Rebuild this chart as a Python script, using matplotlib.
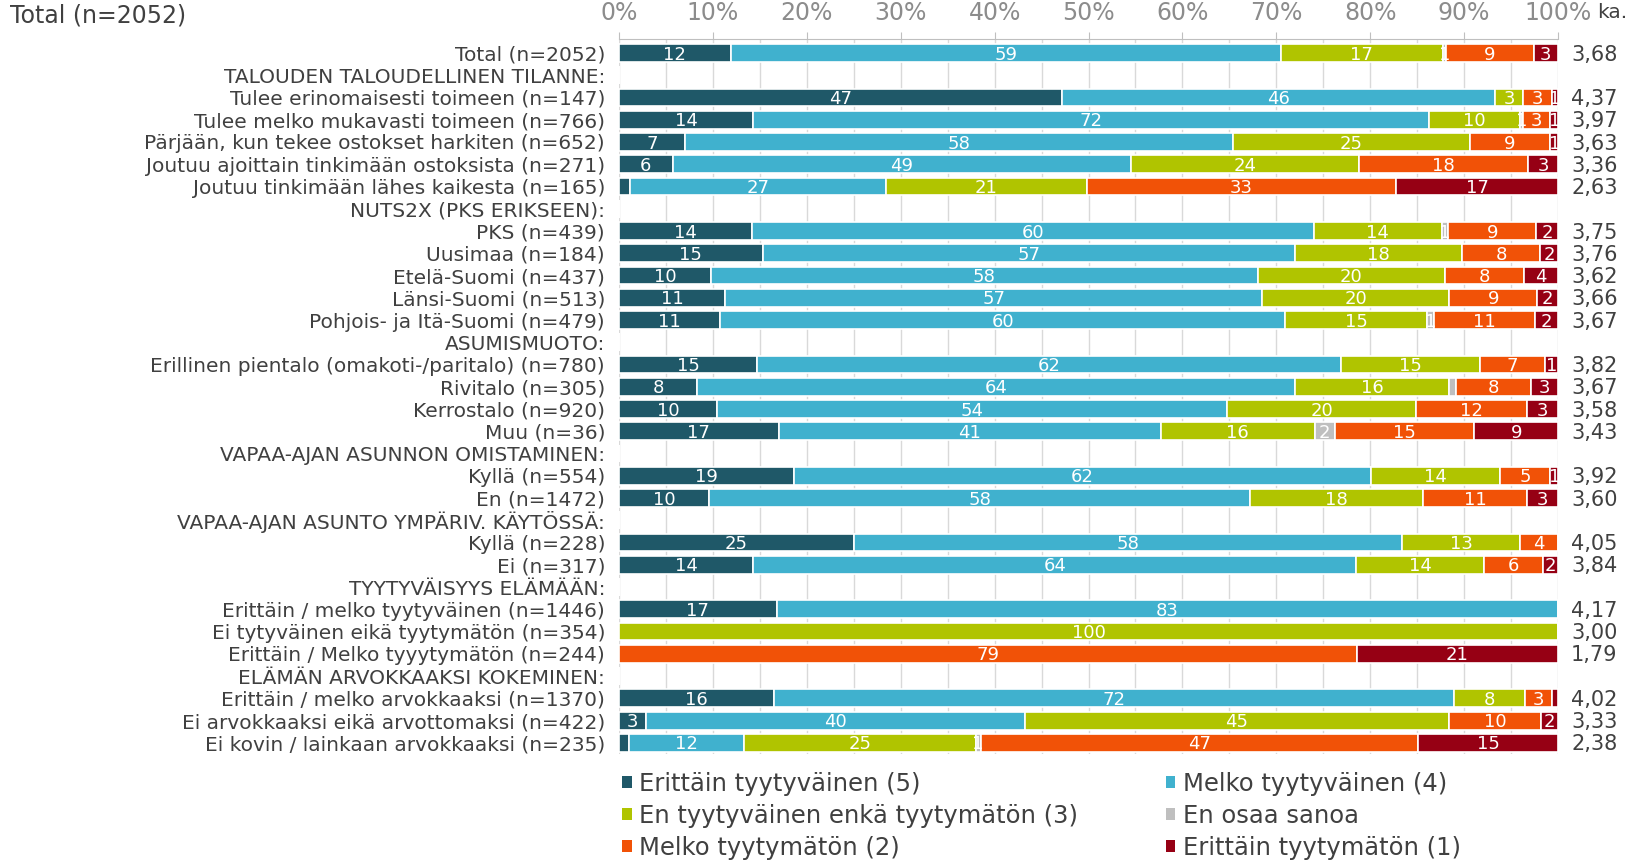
import matplotlib
matplotlib.use("Agg")
import matplotlib.pyplot as plt
from matplotlib.patches import Patch
from matplotlib.transforms import blended_transform_factory

plt.rcParams['font.family'] = ['DejaVu Sans']

# rivit (otsikkorivit ilman palkkeja)
rivit = [
    "Total (n=2052)",
    "TALOUDEN TALOUDELLINEN TILANNE:",
    "Tulee erinomaisesti toimeen (n=147)",
    "Tulee melko mukavasti toimeen (n=766)",
    "Pärjään, kun tekee ostokset harkiten (n=652)",
    "Joutuu ajoittain tinkimään ostoksista (n=271)",
    "Joutuu tinkimään lähes kaikesta (n=165)",
    "NUTS2X (PKS ERIKSEEN):",
    "PKS (n=439)",
    "Uusimaa (n=184)",
    "Etelä-Suomi (n=437)",
    "Länsi-Suomi (n=513)",
    "Pohjois- ja Itä-Suomi (n=479)",
    "ASUMISMUOTO:",
    "Erillinen pientalo (omakoti-/paritalo) (n=780)",
    "Rivitalo (n=305)",
    "Kerrostalo (n=920)",
    "Muu (n=36)",
    "VAPAA-AJAN ASUNNON OMISTAMINEN:",
    "Kyllä (n=554)",
    "En (n=1472)",
    "VAPAA-AJAN ASUNTO YMPÄRIV. KÄYTÖSSÄ:",
    "Kyllä (n=228)",
    "Ei (n=317)",
    "TYYTYVÄISYYS ELÄMÄÄN:",
    "Erittäin / melko tyytyväinen (n=1446)",
    "Ei tytyväinen eikä tyytymätön (n=354)",
    "Erittäin / Melko tyyytymätön (n=244)",
    "ELÄMÄN ARVOKKAAKSI KOKEMINEN:",
    "Erittäin / melko arvokkaaksi (n=1370)",
    "Ei arvokkaaksi eikä arvottomaksi (n=422)",
    "Ei kovin / lainkaan arvokkaaksi (n=235)",
]

# prosentit, arvioitu kuvasta
erittain_tyyt = [11.9, 0, 47.2, 14.3, 7.0, 5.7, 1.2, 0, 14.2, 15.3, 9.8, 11.3, 10.8, 0,
                 14.7, 8.3, 10.4, 17.0, 0, 18.6, 9.6, 0, 25.0, 14.3, 0, 16.8, 0, 0, 0, 16.5, 2.9, 1.1]
melko_tyyt = [58.6, 0, 46.1, 72.0, 58.4, 48.8, 27.2, 0, 59.8, 56.7, 58.2, 57.2, 60.1, 0,
              62.2, 63.7, 54.4, 40.7, 0, 61.5, 57.6, 0, 58.4, 64.2, 0, 83.2, 0, 0, 0, 72.4, 40.3, 12.2]
ei_kumpikaan = [17.2, 0, 3.0, 9.6, 25.2, 24.3, 21.4, 0, 13.6, 17.8, 20.0, 19.9, 15.2, 0,
                14.8, 16.4, 20.1, 16.4, 0, 13.7, 18.4, 0, 12.6, 13.6, 0, 0, 100, 0, 0, 7.6, 45.2, 24.7]
eos = [0.4, 0, 0, 0.4, 0, 0, 0, 0, 0.7, 0, 0, 0, 0.7, 0,
       0, 0.7, 0, 2.1, 0, 0, 0, 0, 0, 0, 0, 0, 0, 0, 0, 0, 0, 0.5]
melko_tyytymaton = [9.3, 0, 3.1, 2.9, 8.6, 18.0, 33.0, 0, 9.4, 8.3, 8.4, 9.4, 10.8, 0,
                    6.9, 8.0, 11.8, 14.9, 0, 5.4, 11.1, 0, 4.0, 6.3, 0, 0, 0, 78.6, 0, 2.9, 9.8, 46.6]
erittain_tyytymaton = [2.6, 0, 0.6, 0.8, 0.8, 3.2, 17.2, 0, 2.3, 1.9, 3.6, 2.2, 2.4, 0,
                       1.4, 2.9, 3.3, 8.9, 0, 0.8, 3.3, 0, 0, 1.6, 0, 0, 0, 21.4, 0, 0.6, 1.8, 14.9]

ka = [3.68, None, 4.37, 3.97, 3.63, 3.36, 2.63, None, 3.75, 3.76, 3.62, 3.66, 3.67, None,
      3.82, 3.67, 3.58, 3.43, None, 3.92, 3.60, None, 4.05, 3.84, None, 4.17, 3.00, 1.79,
      None, 4.02, 3.33, 2.38]

sarjat = ["Erittäin tyytyväinen (5)", "Melko tyytyväinen (4)",
          "En tyytyväinen enkä tyytymätön (3)", "En osaa sanoa",
          "Melko tyytymätön (2)", "Erittäin tyytymätön (1)"]
varit = ["#1f5868", "#40b1ce", "#b0c400", "#bfbfbf", "#f15207", "#960014"]

# pienet osat joissa arvoa ei näytetä
piilotetut = [(6, 0), (15, 3), (29, 5), (31, 0)]

arvot = [erittain_tyyt, melko_tyyt, ei_kumpikaan, eos, melko_tyytymaton, erittain_tyytymaton]

fig = plt.figure(figsize=(16.32, 8.6), dpi=100)
ax = fig.add_axes([619 / 1632, 1 - 754 / 860, 939 / 1632, (754 - 38.5) / 860])

y = list(range(len(rivit)))
left = [0.0] * len(rivit)
for s, (vals, col) in enumerate(zip(arvot, varit)):
    bars = ax.barh(y, vals, left=left, height=0.8, color=col, edgecolor="white",
                   linewidth=1.2, zorder=3)
    for i, (b, v) in enumerate(zip(bars, vals)):
        if v > 0 and (i, s) not in piilotetut:
            ax.text(left[i] + v / 2, i + 0.07, str(max(1, round(v))), ha="center",
                    va="center", color="white", fontsize=13, zorder=4)
    left = [l + v for l, v in zip(left, vals)]

ax.set_xlim(0, 100)
ax.set_ylim(31.5, -0.65)
ax.set_yticks(y)
ax.set_yticklabels(rivit, fontsize=14.5, color="#404040")
ax.tick_params(axis="y", length=0, pad=10)

ax.xaxis.tick_top()
ax.set_xticks(range(0, 101, 10))
ax.set_xticklabels([f"{p}%" for p in range(0, 101, 10)], fontsize=17, color="#8c8c8c")
ax.set_xticks(range(0, 101, 5), minor=True)
ax.tick_params(axis="x", which="major", length=5, color="#bfbfbf", pad=5)
ax.tick_params(axis="x", which="minor", length=0)
ax.grid(axis="x", which="both", color="#d9d9d9", linewidth=1, zorder=0)
ax.set_axisbelow(True)
for sp in ["bottom", "left", "right"]:
    ax.spines[sp].set_visible(False)
ax.spines["top"].set_color("#bfbfbf")

tr = blended_transform_factory(ax.transAxes, ax.transData)
for i, k in enumerate(ka):
    if k is not None:
        ax.text(1.014, i + 0.07, f"{k:.2f}".replace(".", ","), transform=tr,
                ha="left", va="center", fontsize=15, color="#404040")

fig.text(1597 / 1632, 1 - 13 / 860, "ka.", fontsize=14.5, color="#404040", va="center")
fig.text(10 / 1632, 1 - 16 / 860, "Total (n=2052)", fontsize=17, color="#404040", va="center")

kahvat = [Patch(facecolor=c, edgecolor="none") for c in varit]
jarj = [0, 2, 4, 1, 3, 5]
fig.legend([kahvat[j] for j in jarj], [sarjat[j] for j in jarj], ncol=2,
           loc="upper left", bbox_to_anchor=(622 / 1632, 1 - 772 / 860),
           frameon=False, fontsize=17.5, handlelength=0.4, handleheight=0.4,
           handletextpad=0.3, columnspacing=3.6, labelspacing=0.32,
           borderpad=0, borderaxespad=0, labelcolor="#404040")

fig.savefig("out.png", dpi=100)
